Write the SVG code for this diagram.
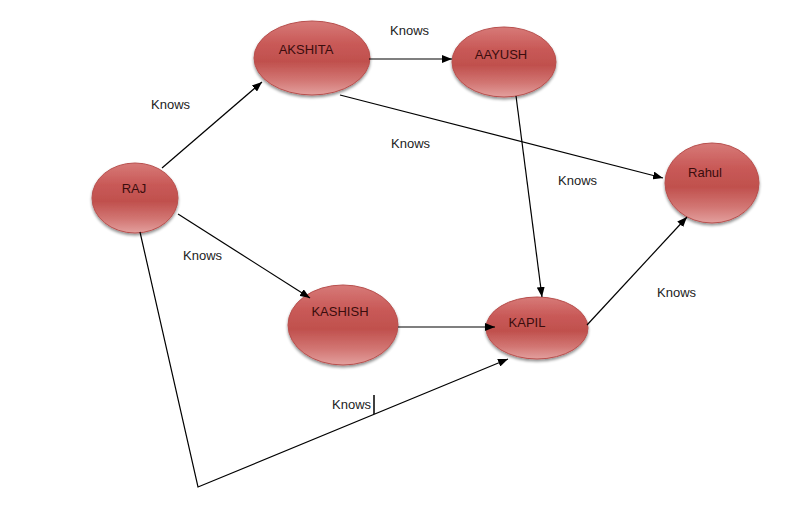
<svg xmlns="http://www.w3.org/2000/svg" width="789" height="508" viewBox="0 0 789 508">
<defs>
<linearGradient id="g" x1="0" y1="0" x2="0" y2="1">
<stop offset="0" stop-color="#d77a78"/>
<stop offset="0.3" stop-color="#c95a58"/>
<stop offset="0.55" stop-color="#c0504d"/>
<stop offset="0.8" stop-color="#d27673"/>
<stop offset="1" stop-color="#e3a09e"/>
</linearGradient>
<filter id="sh" x="-20%" y="-20%" width="140%" height="150%">
<feGaussianBlur in="SourceAlpha" stdDeviation="1.5"/>
<feOffset dx="0" dy="2" result="b"/>
<feComponentTransfer><feFuncA type="linear" slope="0.45"/></feComponentTransfer>
<feMerge><feMergeNode/><feMergeNode in="SourceGraphic"/></feMerge>
</filter>
<marker id="ah" markerWidth="10" markerHeight="8" refX="10" refY="4" orient="auto" markerUnits="userSpaceOnUse">
<path d="M0,0 L10,4 L0,8 Z" fill="#000"/>
</marker>
</defs>
<style>
.n{fill:url(#g);stroke:#b8504e;stroke-width:1;filter:url(#sh)}
.t{font-family:"Liberation Sans",Arial,sans-serif;font-size:13px;fill:#3a0d0d;text-anchor:middle}
.k{font-family:"Liberation Sans",Arial,sans-serif;font-size:13px;fill:#222}
.e{stroke:#000;stroke-width:1.2;fill:none;marker-end:url(#ah)}
</style>
<rect width="789" height="508" fill="#fff"/>
<g id="AKSHITA"><ellipse class="n" cx="312" cy="58" rx="58" ry="37"/><text class="t" x="306" y="54">AKSHITA</text></g>
<g id="AAYUSH"><ellipse class="n" cx="504" cy="62" rx="52" ry="35"/><text class="t" x="501" y="59">AAYUSH</text></g>
<g id="RAJ"><ellipse class="n" cx="135" cy="198" rx="43" ry="35"/><text class="t" x="134" y="193">RAJ</text></g>
<g id="Rahul"><ellipse class="n" cx="712" cy="183" rx="47" ry="40"/><text class="t" x="705" y="177">Rahul</text></g>
<g id="KASHISH"><ellipse class="n" cx="343" cy="325" rx="55" ry="40"/><text class="t" x="340" y="316">KASHISH</text></g>
<g id="KAPIL"><ellipse class="n" cx="537" cy="328" rx="51" ry="31"/><text class="t" x="527" y="327">KAPIL</text></g>
<g id="connectors">
<line class="e" x1="162" y1="168" x2="262" y2="82"/>
<line class="e" x1="369" y1="59" x2="452" y2="59"/>
<line class="e" x1="340" y1="95" x2="663" y2="178"/>
<line class="e" x1="516" y1="96" x2="542" y2="297"/>
<line class="e" x1="178" y1="214" x2="310" y2="298"/>
<line class="e" x1="398" y1="327" x2="495" y2="327"/>
<line class="e" x1="587" y1="325" x2="687" y2="217"/>
<polyline class="e" points="140,232 198,487 508,359"/>
</g>
<g id="labels">
<text class="k" x="151" y="109">Knows</text>
<text class="k" x="390" y="35">Knows</text>
<text class="k" x="391" y="148">Knows</text>
<text class="k" x="558" y="185">Knows</text>
<text class="k" x="183" y="260">Knows</text>
<text class="k" x="657" y="297">Knows</text>
<text class="k" x="332" y="409">Knows</text>
<line x1="374" y1="395" x2="374" y2="414" stroke="#000" stroke-width="1.5"/>
</g>
</svg>
